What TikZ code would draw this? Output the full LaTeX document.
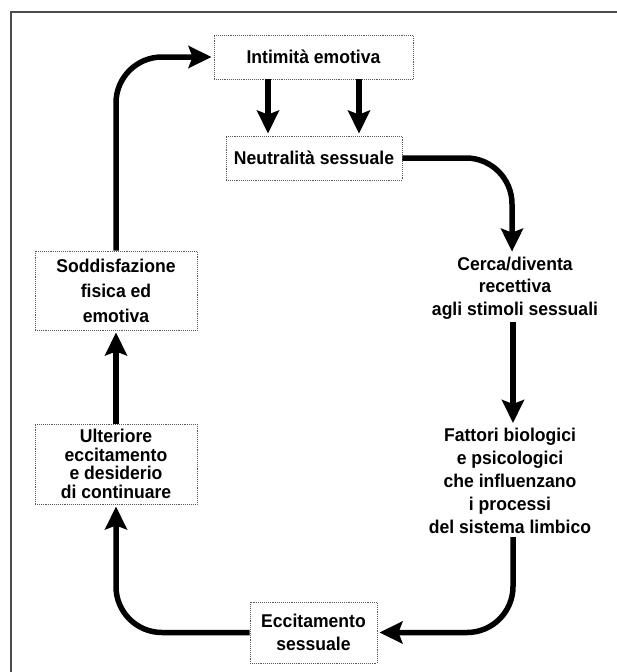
\documentclass[tikz,border=0pt]{standalone}
\usepackage{fontspec}
\setmainfont{Liberation Sans}[FakeStretch=0.95]
\usetikzlibrary{arrows.meta,positioning}
\tikzstyle{stage}    = [draw=black!65, densely dotted, line width=0.9pt, align=center, inner sep=0pt, font=\bfseries\fontsize{18.5}{25}\selectfont]
\tikzstyle{freetext} = [align=center, inner sep=3pt, font=\bfseries\fontsize{18.5}{23}\selectfont]
\tikzstyle{flow}     = [line width=5.5pt, -{Stealth[length=23pt,width=22pt,inset=4pt]}, rounded corners=46pt, shorten >=2pt]

\begin{document}
\begin{tikzpicture}[x=1pt,y=-1pt]
        \useasboundingbox (0,0) rectangle (617,672);
        \draw[black!70, line width=1.3pt] (11,672) -- (11,12) -- (617,12);

        \node[stage, minimum width=199pt, minimum height=44pt] (intim) at (313.5,57) {Intimità emotiva};
        \node[stage, minimum width=176pt, minimum height=44pt] (neutr) at (314,158) {Neutralità sessuale};
        \node[freetext, font=\bfseries\fontsize{18.5}{22.5}\selectfont] (cerca) at (515,288) {Cerca/diventa\\recettiva\\agli stimoli sessuali};
        \node[freetext] (fatt) at (510,481) {Fattori biologici\\e psicologici\\che influenzano\\i processi\\del sistema limbico};
        \node[stage, minimum width=127pt, minimum height=61pt, font=\bfseries\fontsize{18.5}{23}\selectfont] (eccit) at (313.5,632.5) {Eccitamento\\sessuale};
        \node[stage, minimum width=162pt, minimum height=80pt, font=\bfseries\fontsize{18.5}{18.5}\selectfont] (ulter) at (116,464) {Ulteriore\\eccitamento\\e desiderio\\di continuare};
        \node[stage, minimum width=162pt, minimum height=79pt] (soddisf) at (116,290.5) {Soddisfazione\\fisica ed\\emotiva};

        % il ciclo
        \draw[flow] ([xshift=-45.5pt]intim.south) -- ([xshift=-46pt]neutr.north);
        \draw[flow] ([xshift=45.5pt]intim.south) -- ([xshift=45pt]neutr.north);
        \draw[flow] (neutr.east) -| ([xshift=-3pt]cerca.north);
        \draw[flow] ([xshift=-2pt]cerca.south) -- ([xshift=3pt]fatt.north);
        \draw[flow] ([xshift=3pt]fatt.south) |- (eccit.east);
        \draw[flow] (eccit.west) -| (ulter.south);
        \draw[flow] (ulter.north) -- (soddisf.south);
        \draw[flow] (soddisf.north) |- (intim.west);
\end{tikzpicture}
\end{document}
